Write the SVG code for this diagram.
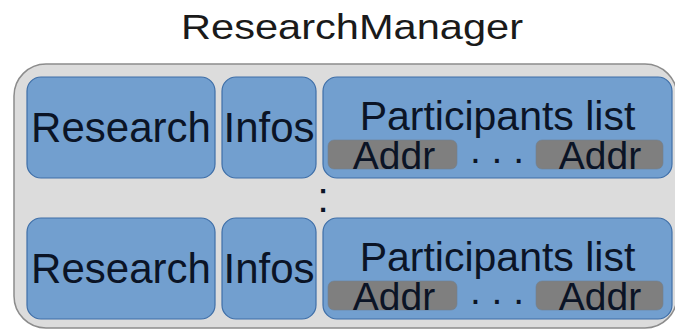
<svg xmlns="http://www.w3.org/2000/svg" width="675" height="331" viewBox="0 0 675 331">
<style>
.title{font-family:"Liberation Sans",Arial,sans-serif;font-size:35px;fill:#1a1a1a;text-anchor:middle}
.box{fill:#729fcf;stroke:#3f6fa8;stroke-width:1.2}
.addr{fill:#7f7f7f;stroke:#6f7f90;stroke-width:0.6}
.t{font-family:"Liberation Sans",Arial,sans-serif;font-size:42px;fill:#0b1426;text-anchor:middle}
.tp{font-family:"Liberation Sans",Arial,sans-serif;font-size:41px;fill:#0b1426;text-anchor:middle}
.ta{font-family:"Liberation Sans",Arial,sans-serif;font-size:39px;fill:#0b1426;text-anchor:middle}
.outer{fill:#dcdcdc;stroke:#8c8c8c;stroke-width:1.5}
</style>
<rect width="675" height="331" fill="#ffffff"/>
<text class="title" x="352" y="39" textLength="342" lengthAdjust="spacingAndGlyphs">ResearchManager</text>
<g id="manager">
<rect class="outer" x="14" y="64" width="663" height="264" rx="32" ry="32"/>
</g>
<g id="row1">
<g id="research1">
<rect class="box" x="27" y="77" width="188" height="101" rx="14"/>
<text class="t" x="121" y="142">Research</text>
</g>
<g id="infos1">
<rect class="box" x="222" y="77" width="94" height="101" rx="14"/>
<text class="t" x="269" y="142">Infos</text>
</g>
<g id="participants1">
<rect class="box" x="323" y="77" width="349" height="101" rx="14"/>
<text class="tp" x="497.5" y="130">Participants list</text>
<rect class="addr" x="328" y="140" width="129" height="29" rx="6"/>
<text class="ta" x="394" y="169">Addr</text>
<text class="ta" x="497" y="163">. . .</text>
<rect class="addr" x="536" y="140" width="127" height="29" rx="6"/>
<text class="ta" x="600" y="169">Addr</text>
</g>
</g>
<text class="t" x="323" y="212">:</text>
<g id="row2">
<g id="research2">
<rect class="box" x="27" y="218" width="188" height="101" rx="14"/>
<text class="t" x="121" y="283">Research</text>
</g>
<g id="infos2">
<rect class="box" x="222" y="218" width="94" height="101" rx="14"/>
<text class="t" x="269" y="283">Infos</text>
</g>
<g id="participants2">
<rect class="box" x="323" y="218" width="349" height="101" rx="14"/>
<text class="tp" x="497.5" y="271">Participants list</text>
<rect class="addr" x="328" y="281" width="129" height="29" rx="6"/>
<text class="ta" x="394" y="310">Addr</text>
<text class="ta" x="497" y="304">. . .</text>
<rect class="addr" x="536" y="281" width="127" height="29" rx="6"/>
<text class="ta" x="600" y="310">Addr</text>
</g>
</g>
<g id="connectors"></g>
</svg>
